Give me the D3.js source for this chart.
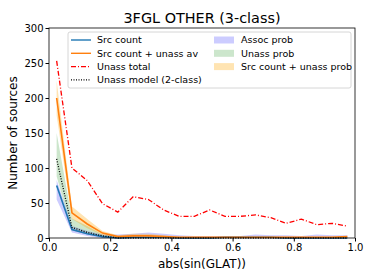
<!DOCTYPE html>
<html>
<head>
<meta charset="utf-8">
<script src="https://cdn.jsdelivr.net/npm/d3@7"></script>
<style>
  body { margin: 0; background: #fff; }
  svg text { font-family: "DejaVu Sans", sans-serif; fill: #000; }
</style>
</head>
<body>
<div id="chart"></div>
<script>
const binCenters = [0.025, 0.075, 0.125, 0.175, 0.225, 0.275, 0.325, 0.375, 0.425, 0.475,
  0.525, 0.575, 0.625, 0.675, 0.725, 0.775, 0.825, 0.875, 0.925, 0.975];
const srcCount   = [75, 12, 6, 2, 0, 1, 1, 1, 0, 0, 0, 1, 1, 1, 1, 0, 0, 0, 0, 0];
const assocLo    = [55, 8, 3, 0, 0, 0, 0, 0, 0, 0, 0, 0, 0, 0, 0, 0, 0, 0, 0, 0];
const assocHi    = [83, 17, 10, 5, 5, 6, 8, 6, 4, 3, 3, 3, 3, 5, 4, 4, 3, 5, 4, 4];
const srcUnassAv = [200, 36, 20, 7, 2, 3, 3, 2, 1, 1, 1, 1, 1, 1, 1, 1, 1, 1, 1, 2];
const sumLo      = [175, 27, 14, 4, 1, 2, 2, 1, 1, 0, 0, 0, 0, 0, 0, 0, 0, 0, 0, 1];
const sumHi      = [225, 45, 27, 10, 4, 6, 6, 4, 2, 2, 2, 2, 2, 2, 2, 2, 2, 2, 2, 3];
const unassLo    = [88, 11, 5, 1, 0, 0, 0, 0, 0, 0, 0, 0, 0, 0, 0, 0, 0, 0, 0, 0];
const unassHi    = [150, 28, 17, 5, 2, 2, 2, 1, 1, 1, 1, 1, 1, 1, 1, 1, 1, 1, 1, 1];
const unassModel = [113, 15, 8, 3, 0, 0, 0, 0, 0, 0, 0, 0, 0, 0, 0, 0, 0, 0, 0, 0];
const unassTotal = [253, 100, 82, 49, 37, 59, 55, 40, 31, 31, 40, 31, 31, 33, 29, 21, 27, 19, 21, 17];
const xTicks = [0, 0.2, 0.4, 0.6, 0.8, 1.0];
const yTicks = [0, 50, 100, 150, 200, 250, 300];

const width = 374, height = 280;
const margin = {left: 49, right: 19, top: 28, bottom: 42};

let svg = d3.select("#chart").append("svg")
  .attr("width", width)
  .attr("height", height);

let x = d3.scaleLinear().domain([0, 1]).range([margin.left, width - margin.right]);
let y = d3.scaleLinear().domain([0, 300]).range([height - margin.bottom, margin.top]);

let g = svg.append("g");

// bands
function band(lo, hi, color, op) {
  let area = d3.area()
    .x((d, i) => x(binCenters[i]))
    .y0((d, i) => y(lo[i]))
    .y1((d, i) => y(hi[i]));
  g.append("path").datum(lo).attr("d", area)
    .attr("fill", color).attr("fill-opacity", op).attr("stroke", "none");
}
band(assocLo, assocHi, "blue", 0.2);
band(unassLo, unassHi, "green", 0.2);
band(sumLo, sumHi, "orange", 0.3);

function line(vals, color, w, dash) {
  let ln = d3.line().x((d, i) => x(binCenters[i])).y(d => y(d));
  g.append("path").datum(vals).attr("d", ln)
    .attr("fill", "none").attr("stroke", color).attr("stroke-width", w)
    .attr("stroke-dasharray", dash);
}
line(srcCount, "#1f77b4", 1.6, null);
line(srcUnassAv, "#ff7f0e", 1.6, null);
line(unassTotal, "#ff0000", 1.3, "5,2,1,2");
line(unassModel, "#000", 1.3, "1,1.5");

// axes
let xAxis = svg.append("g")
  .attr("transform", "translate(0," + (height - margin.bottom) + ")")
  .call(d3.axisBottom(x).tickValues(xTicks).tickFormat(d3.format(".1f")).tickSize(3.5).tickPadding(2));
let yAxis = svg.append("g")
  .attr("transform", "translate(" + margin.left + ",0)")
  .call(d3.axisLeft(y).tickValues(yTicks).tickSize(3.5).tickPadding(2));
[xAxis, yAxis].forEach(a => {
  a.selectAll("text").attr("font-size", "10px").attr("font-family", "DejaVu Sans");
  a.select(".domain").remove();
});

svg.append("rect")
  .attr("x", margin.left).attr("y", margin.top)
  .attr("width", width - margin.left - margin.right)
  .attr("height", height - margin.bottom - margin.top)
  .attr("fill", "none").attr("stroke", "#000").attr("stroke-width", 0.8);

svg.append("text").attr("x", (margin.left + width - margin.right) / 2).attr("y", 23)
  .attr("text-anchor", "middle").attr("font-size", "14.4px").text("3FGL OTHER (3-class)");
svg.append("text").attr("x", (margin.left + width - margin.right) / 2).attr("y", 268)
  .attr("text-anchor", "middle").attr("font-size", "12px").text("abs(sin(GLAT))");
svg.append("text").attr("transform", "translate(17," + ((margin.top + height - margin.bottom) / 2) + ") rotate(-90)")
  .attr("text-anchor", "middle").attr("font-size", "12px").text("Number of sources");

// legend
let leg = svg.append("g");
leg.append("rect").attr("x", 68).attr("y", 32).attr("width", 283).attr("height", 56)
  .attr("rx", 2).attr("fill", "#fff").attr("fill-opacity", 0.8)
  .attr("stroke", "#ccc").attr("stroke-width", 0.8);
const lineItems = [
  {label: "Src count", color: "#1f77b4", dash: null},
  {label: "Src count + unass av", color: "#ff7f0e", dash: null},
  {label: "Unass total", color: "#ff0000", dash: "5,2,1,2"},
  {label: "Unass model (2-class)", color: "#000", dash: "1,1.5"}
];
lineItems.forEach((it, i) => {
  let yy = 40 + i * 13.3;
  leg.append("line").attr("x1", 71).attr("x2", 91).attr("y1", yy).attr("y2", yy)
    .attr("stroke", it.color).attr("stroke-width", 1.4).attr("stroke-dasharray", it.dash);
  leg.append("text").attr("x", 97).attr("y", yy + 3.4).attr("font-size", "9.5px").text(it.label);
});
const patchItems = [
  {label: "Assoc prob", color: "blue", op: 0.2},
  {label: "Unass prob", color: "green", op: 0.2},
  {label: "Src count + unass prob", color: "orange", op: 0.3}
];
patchItems.forEach((it, i) => {
  let yy = 40 + i * 13.3;
  leg.append("rect").attr("x", 214).attr("y", yy - 3.5).attr("width", 20).attr("height", 7)
    .attr("fill", it.color).attr("fill-opacity", it.op);
  leg.append("text").attr("x", 241).attr("y", yy + 3.4).attr("font-size", "9.5px").text(it.label);
});
</script>
</body>
</html>
